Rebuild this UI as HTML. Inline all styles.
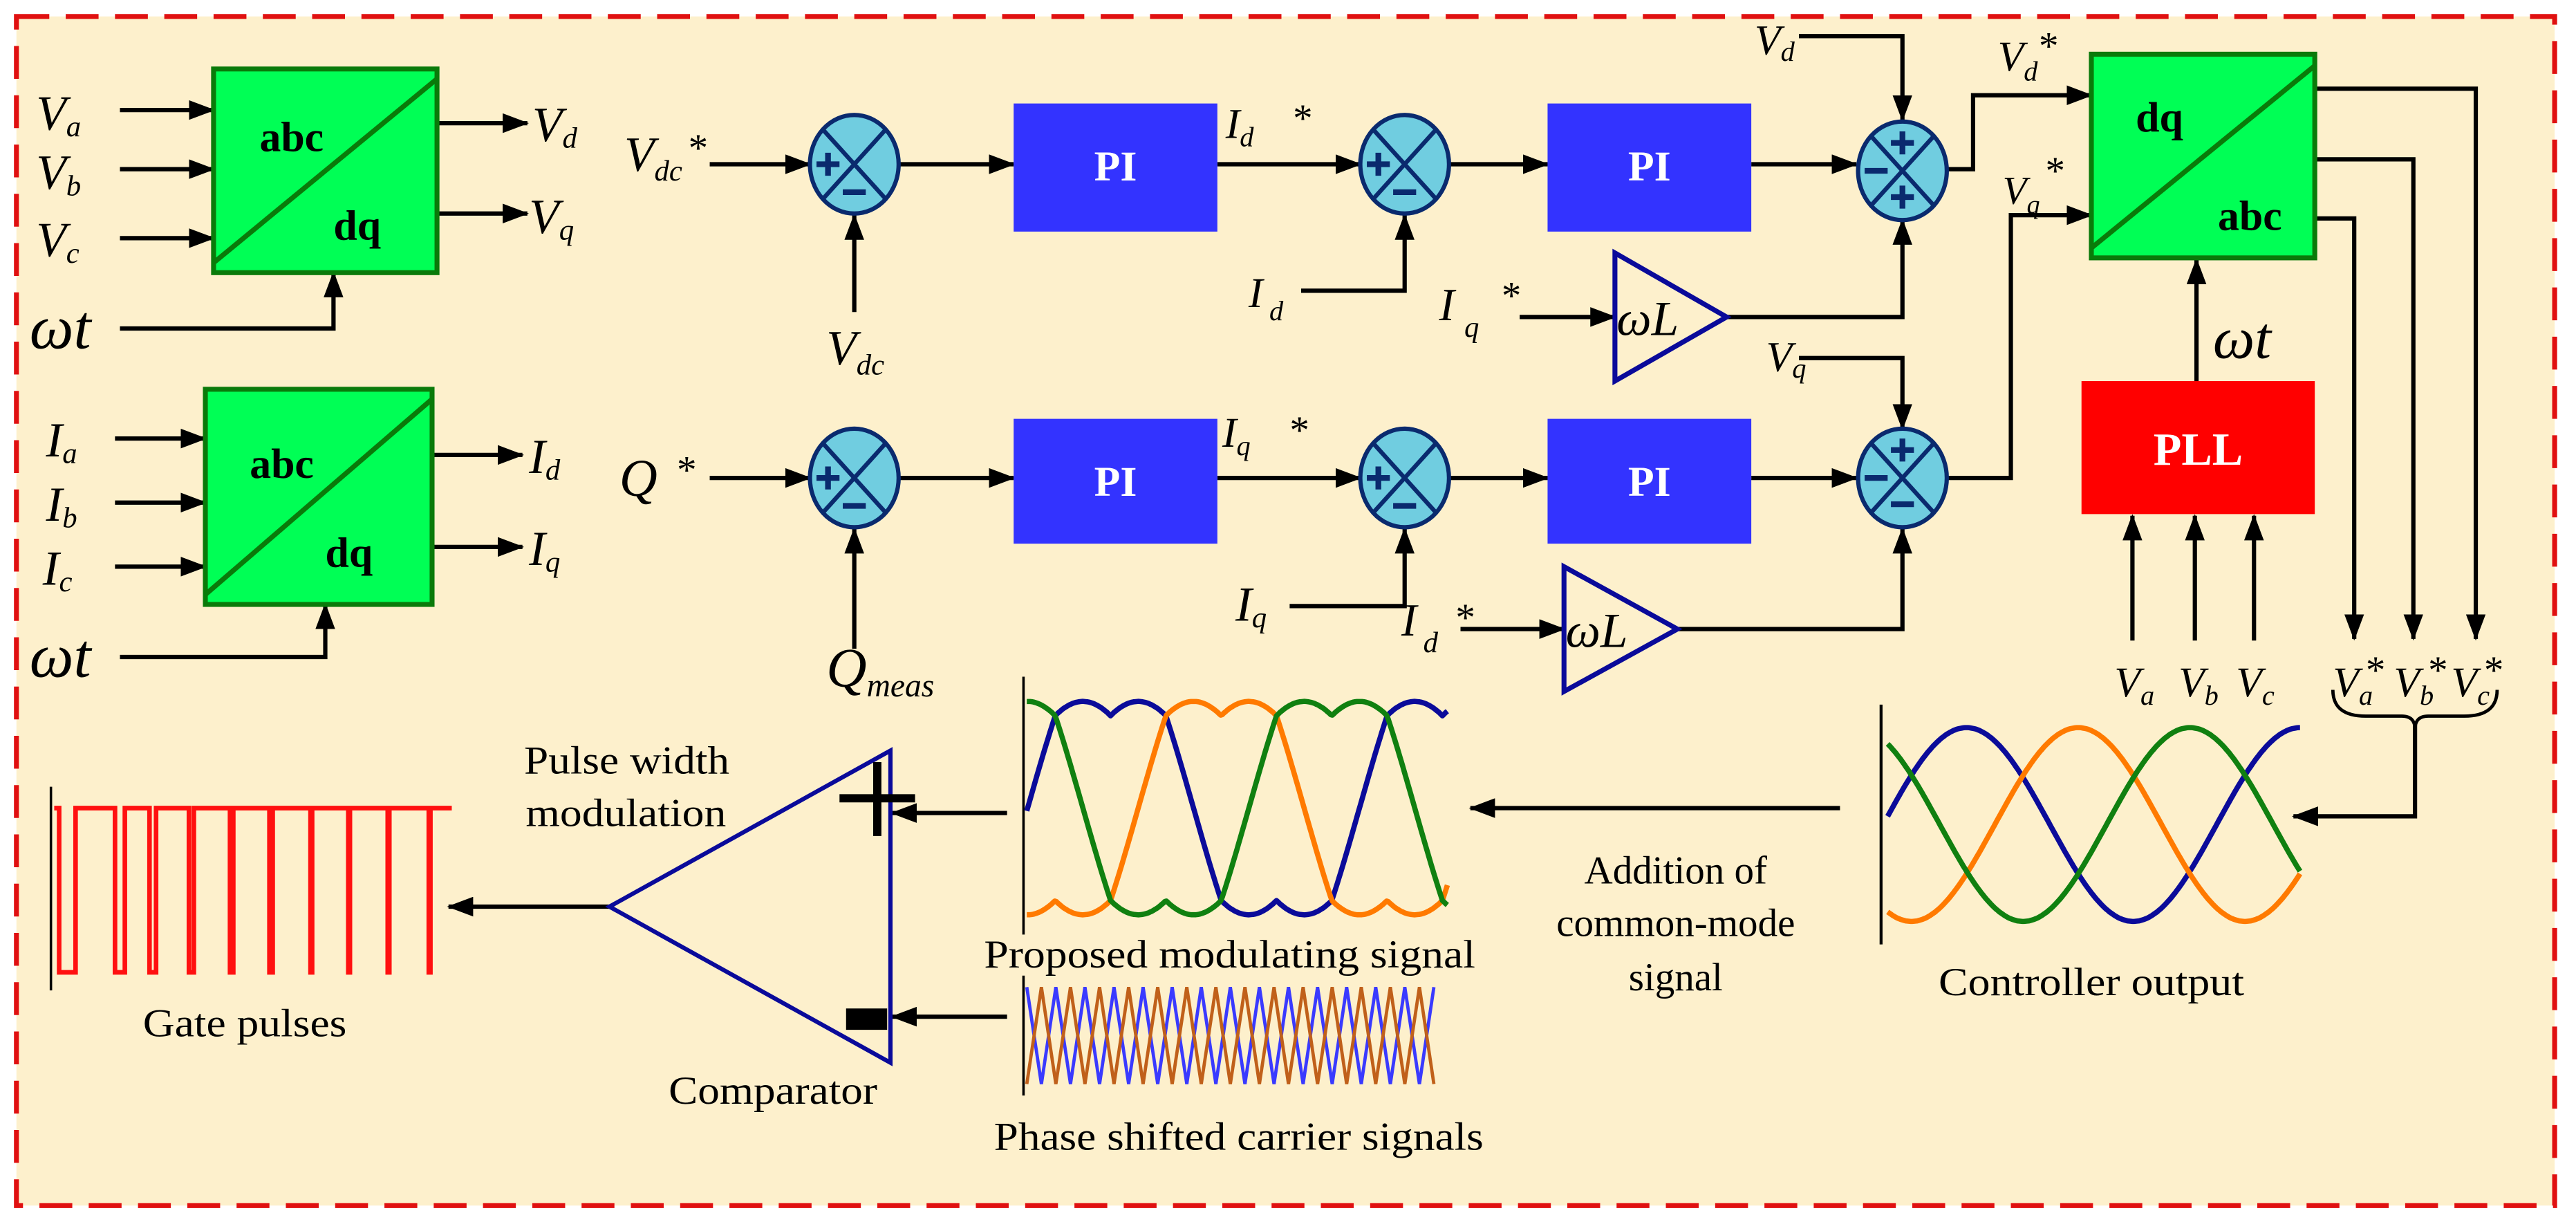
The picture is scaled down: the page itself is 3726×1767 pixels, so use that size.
<!DOCTYPE html>
<html><head><meta charset="utf-8"><style>
html,body{margin:0;padding:0;background:#fff;}
svg{display:block;}
text{font-family:"Liberation Serif",serif;fill:#000;}
.it{font-style:italic;}
.b{font-weight:bold;}
</style></head><body>
<svg width="3726" height="1767" viewBox="0 0 1568 744" preserveAspectRatio="none" xmlns="http://www.w3.org/2000/svg">
<defs>
<marker id="a" markerUnits="userSpaceOnUse" markerWidth="16" markerHeight="12" refX="15" refY="6" orient="auto">
<path d="M0,0 L16,6 L0,12 z" fill="#000"/></marker>
</defs>
<rect x="0" y="0" width="1568" height="744" fill="#fff"/>
<rect x="10" y="10" width="1545" height="724" fill="#fdf0cc" stroke="#e01010" stroke-width="3" stroke-dasharray="20,10"/>

<g fill="none" stroke="#000" stroke-width="2.6" marker-end="url(#a)">
<path d="M73,67 H130"/><path d="M73,103 H130"/><path d="M73,145 H130"/>
<path d="M266,75 H321"/><path d="M266,130 H321"/>
<path d="M73,200 H203 V166"/>
<path d="M70,267 H125"/><path d="M70,306 H125"/><path d="M70,345 H125"/>
<path d="M263,277 H318"/><path d="M263,333 H318"/>
<path d="M73,400 H198 V368"/>
<path d="M432,100 H493"/><path d="M520,190 V131"/>
<path d="M547,100 H617"/><path d="M741,100 H828"/>
<path d="M792,177 H855 V131"/><path d="M882,100 H942"/>
<path d="M1066,100 H1130"/>
<path d="M1095,22 H1158 V73"/>
<path d="M925,193 H983"/>
<path d="M1051,193 H1158 V134"/>
<path d="M1185,103 H1201 V58 H1273"/>
<path d="M432,291 H493"/><path d="M520,395 V322"/>
<path d="M547,291 H617"/><path d="M741,291 H828"/>
<path d="M785,369 H855 V322"/><path d="M882,291 H942"/>
<path d="M1066,291 H1130"/>
<path d="M1095,218 H1158 V261"/>
<path d="M889,383 H952"/>
<path d="M1021,383 H1158 V322"/>
<path d="M1185,291 H1224 V131 H1273"/>
<path d="M1337,232 V158"/>
<path d="M1298,390 V314"/><path d="M1336,390 V314"/><path d="M1372,390 V314"/>
<path d="M1409,54 H1507 V389"/><path d="M1409,97 H1469 V389"/><path d="M1409,133 H1433 V389"/>
<path d="M1470,440 V497 H1396"/>
<path d="M1120,492 H895"/>
<path d="M613,495 H543"/><path d="M613,619 H543"/>
<path d="M371,552 H273"/>
</g>
<path d="M1420,420 Q1420,436 1440,436 L1462,436 Q1470,436 1470,444 Q1470,436 1478,436 L1500,436 Q1520,436 1520,420" fill="none" stroke="#000" stroke-width="2"/>

<g stroke="#0a7a0a" stroke-width="3" fill="#00ff55">
<rect x="130" y="42" width="136" height="124"/>
<rect x="125" y="237" width="138" height="131"/>
<rect x="1273" y="33" width="136" height="124"/>
</g>
<g stroke="#0a7a0a" stroke-width="3">
<line x1="130" y1="160" x2="266" y2="48"/>
<line x1="125" y1="362" x2="263" y2="243"/>
<line x1="1273" y1="151" x2="1409" y2="40"/>
</g>
<text x="158" y="92" class="b" font-size="26">abc</text>
<text x="203" y="146" class="b" font-size="26">dq</text>
<text x="152" y="291" class="b" font-size="26">abc</text>
<text x="198" y="345" class="b" font-size="26">dq</text>
<text x="1300" y="80" class="b" font-size="26">dq</text>
<text x="1350" y="140" class="b" font-size="26">abc</text>

<g fill="#3333ff">
<rect x="617" y="63" width="124" height="78"/>
<rect x="942" y="63" width="124" height="78"/>
<rect x="617" y="255" width="124" height="76"/>
<rect x="942" y="255" width="124" height="76"/>
</g>
<g class="b" font-size="26" text-anchor="middle">
<text x="679" y="110" style="fill:#fff">PI</text>
<text x="1004" y="110" style="fill:#fff">PI</text>
<text x="679" y="302" style="fill:#fff">PI</text>
<text x="1004" y="302" style="fill:#fff">PI</text>
</g>
<rect x="1267" y="232" width="142" height="81" fill="#ff0000"/>
<text x="1338" y="283" text-anchor="middle" class="b" font-size="28" style="fill:#fff">PLL</text>

<g stroke="#0a2a6e" stroke-width="2.6" fill="#70cde0">
<ellipse cx="520" cy="100" rx="27" ry="30"/>
<ellipse cx="855" cy="100" rx="27" ry="30"/>
<ellipse cx="1158" cy="104" rx="27" ry="30"/>
<ellipse cx="520" cy="291" rx="27" ry="30"/>
<ellipse cx="855" cy="291" rx="27" ry="30"/>
<ellipse cx="1158" cy="291" rx="27" ry="30"/>
</g>
<g stroke="#0a2a6e" stroke-width="2.6">
<path d="M501,79 L539,121 M539,79 L501,121"/>
<path d="M836,79 L874,121 M874,79 L836,121"/>
<path d="M1139,83 L1177,125 M1177,83 L1139,125"/>
<path d="M501,270 L539,312 M539,270 L501,312"/>
<path d="M836,270 L874,312 M874,270 L836,312"/>
<path d="M1139,270 L1177,312 M1177,270 L1139,312"/>
</g>
<g stroke="#0a2a6e" stroke-width="3.5">
<path d="M497,100 H511 M504,93 V107 M513,117 H527"/>
<path d="M832,100 H846 M839,93 V107 M848,117 H862"/>
<path d="M497,291 H511 M504,284 V298 M513,308 H527"/>
<path d="M832,291 H846 M839,284 V298 M848,308 H862"/>
<path d="M1135,104 H1149 M1151,87 H1165 M1158,80 V94 M1151,120 H1165 M1158,113 V127"/>
<path d="M1135,291 H1149 M1151,274 H1165 M1158,267 V281 M1151,307 H1165"/>
</g>

<g fill="none" stroke="#0a0a9a" stroke-width="3">
<path d="M983,154 L1051,193 L983,232 Z"/>
<path d="M952,345 L1021,383 L952,421 Z"/>
</g>
<text x="984" y="204" class="it" font-size="30">ωL</text>
<text x="953" y="394" class="it" font-size="30">ωL</text>

<g class="it">
<text x="22" y="79" font-size="30">V<tspan font-size="18" dy="4">a</tspan></text>
<text x="22" y="115" font-size="30">V<tspan font-size="18" dy="4">b</tspan></text>
<text x="22" y="156" font-size="30">V<tspan font-size="18" dy="4">c</tspan></text>
<text x="18" y="212" font-size="38">ωt</text>
<text x="324" y="86" font-size="30">V<tspan font-size="18" dy="4">d</tspan></text>
<text x="322" y="142" font-size="30">V<tspan font-size="18" dy="4">q</tspan></text>
<text x="28" y="278" font-size="30">I<tspan font-size="18" dy="4">a</tspan></text>
<text x="28" y="317" font-size="30">I<tspan font-size="18" dy="4">b</tspan></text>
<text x="26" y="356" font-size="30">I<tspan font-size="18" dy="4">c</tspan></text>
<text x="18" y="412" font-size="38">ωt</text>
<text x="322" y="288" font-size="30">I<tspan font-size="18" dy="4">d</tspan></text>
<text x="322" y="344" font-size="30">I<tspan font-size="18" dy="4">q</tspan></text>
<text x="380" y="104" font-size="30">V<tspan font-size="18" dy="6">dc</tspan></text>
<text x="503" y="222" font-size="30">V<tspan font-size="18" dy="6">dc</tspan></text>
<text x="377" y="302" font-size="32">Q</text>
<text x="503" y="418" font-size="34">Q<tspan font-size="20" dy="6">meas</tspan></text>
<text x="746" y="84" font-size="26">I<tspan font-size="17" dy="5">d</tspan></text>
<text x="760" y="187" font-size="26">I<tspan font-size="17" dy="8" dx="4">d</tspan></text>
<text x="876" y="195" font-size="28">I<tspan font-size="18" dy="10" dx="6">q</tspan></text>
<text x="744" y="272" font-size="26">I<tspan font-size="17" dy="5">q</tspan></text>
<text x="752" y="378" font-size="30">I<tspan font-size="18" dy="4">q</tspan></text>
<text x="853" y="387" font-size="28">I<tspan font-size="18" dy="10" dx="4">d</tspan></text>
<text x="1068" y="33" font-size="26">V<tspan font-size="17" dy="4">d</tspan></text>
<text x="1075" y="226" font-size="26">V<tspan font-size="17" dy="4">q</tspan></text>
<text x="1216" y="43" font-size="26">V<tspan font-size="17" dy="6">d</tspan></text>
<text x="1219" y="124" font-size="24">V<tspan font-size="16" dy="6">q</tspan></text>
<text x="1347" y="218" font-size="36">ωt</text>
<text x="1287" y="424" font-size="26">V<tspan font-size="17" dy="5">a</tspan></text>
<text x="1326" y="424" font-size="26">V<tspan font-size="17" dy="5">b</tspan></text>
<text x="1361" y="424" font-size="26">V<tspan font-size="17" dy="5">c</tspan></text>
<text x="1420" y="424" font-size="26">V<tspan font-size="17" dy="5">a</tspan></text>
<text x="1457" y="424" font-size="26">V<tspan font-size="17" dy="5">b</tspan></text>
<text x="1492" y="424" font-size="26">V<tspan font-size="17" dy="5">c</tspan></text>
</g>
<g font-size="24">
<text x="419" y="98">*</text>
<text x="412" y="294">*</text>
<text x="787" y="80">*</text>
<text x="914" y="188">*</text>
<text x="785" y="270">*</text>
<text x="886" y="384">*</text>
<text x="1241" y="36">*</text>
<text x="1245" y="112">*</text>
<text x="1440" y="416">*</text>
<text x="1478" y="416">*</text>
<text x="1512" y="416">*</text>
</g>

<line x1="31" y1="479" x2="31" y2="603" stroke="#000" stroke-width="1.5"/>
<path d="M33,492 H36 V592 H46 V492 H70 V592 H76 V492 H91 V592 H95 V492 H115 V592 H118 V492 H140 V592 H142 V492 H164 V592 H166 V492 H189 V592 H190 V492 H212 V592 H213 V492 H236 V592 H237 V492 H261 V592 H262 V492 H275" fill="none" stroke="#ff1010" stroke-width="2.8"/>
<text x="87" y="631" font-size="24" textLength="124" lengthAdjust="spacingAndGlyphs">Gate pulses</text>
<text x="319" y="471" font-size="24" textLength="125" lengthAdjust="spacingAndGlyphs">Pulse width</text>
<text x="320" y="503" font-size="24" textLength="122" lengthAdjust="spacingAndGlyphs">modulation</text>
<text x="407" y="672" font-size="24" textLength="127" lengthAdjust="spacingAndGlyphs">Comparator</text>
<path d="M371,552 L542,457 L542,647 Z" fill="none" stroke="#0a0a9a" stroke-width="2.6"/>
<path d="M534,464 V509 M511,486 H557" stroke="#000" stroke-width="5"/>
<rect x="515" y="614" width="25" height="13" fill="#000"/>

<line x1="623" y1="412" x2="623" y2="569" stroke="#000" stroke-width="1.5"/>
<line x1="623" y1="594" x2="623" y2="667" stroke="#000" stroke-width="1.5"/>
<text x="599" y="589" font-size="24" textLength="299" lengthAdjust="spacingAndGlyphs">Proposed modulating signal</text>
<text x="605" y="700" font-size="24" textLength="298" lengthAdjust="spacingAndGlyphs">Phase shifted carrier signals</text>
<g id="mod" fill="none" stroke-width="3.2" stroke-linejoin="round"></g>
<g id="car" fill="none" stroke-width="2"></g>

<line x1="1145" y1="429" x2="1145" y2="575" stroke="#000" stroke-width="1.8"/>
<g id="ctl" fill="none" stroke-width="3.2"></g>
<text x="1180" y="606" font-size="24" textLength="186" lengthAdjust="spacingAndGlyphs">Controller output</text>
<g font-size="24" text-anchor="middle">
<text x="1020" y="538">Addition of</text>
<text x="1020" y="570">common-mode</text>
<text x="1020" y="603">signal</text>
</g>
</svg>
<script>
(function(){
var NS="http://www.w3.org/2000/svg";
function add(g,d,c){var p=document.createElementNS(NS,"path");p.setAttribute("d",d);p.setAttribute("stroke",c);document.getElementById(g).appendChild(p);}
var cols=["#0b0b9a","#ff7a00","#108010"];
// modulating: min-max injection
var T=202;
var ds=["","",""];
for(var x=625;x<=881;x+=1){
 var v=[];for(var k=0;k<3;k++){v.push(Math.cos(2*Math.PI*(x-676-k*T/3)/T));}
 var off=(Math.max(v[0],v[1],v[2])+Math.min(v[0],v[1],v[2]))/2;
 for(var k=0;k<3;k++){var y=492-75*(v[k]-off);ds[k]+=(x==625?"M":"L")+x+","+y.toFixed(1);}
}
for(var k=0;k<3;k++)add("mod",ds[k],cols[k]);
// controller
var peaks=[1197,1265,1333];var T2=203;
for(var k=0;k<3;k++){var d="";for(var x=1149;x<=1400;x+=1){var y=502-59*Math.cos(2*Math.PI*(x-peaks[k])/T2);d+=(x==1149?"M":"L")+x+","+y.toFixed(1);}add("ctl",d,cols[k]);}
// carriers
var cc=["#3a3aff","#c0601a"];var Tc=17.7;
for(var k=0;k<2;k++){var d="";var i=0;for(var x=625;x<=874;x+=Tc/2){var up=(i+k)%2==0;d+=(i==0?"M":"L")+x.toFixed(1)+","+(up?601:660);i++;}add("car",d,cc[k]);}
})();
</script>
</body></html>
